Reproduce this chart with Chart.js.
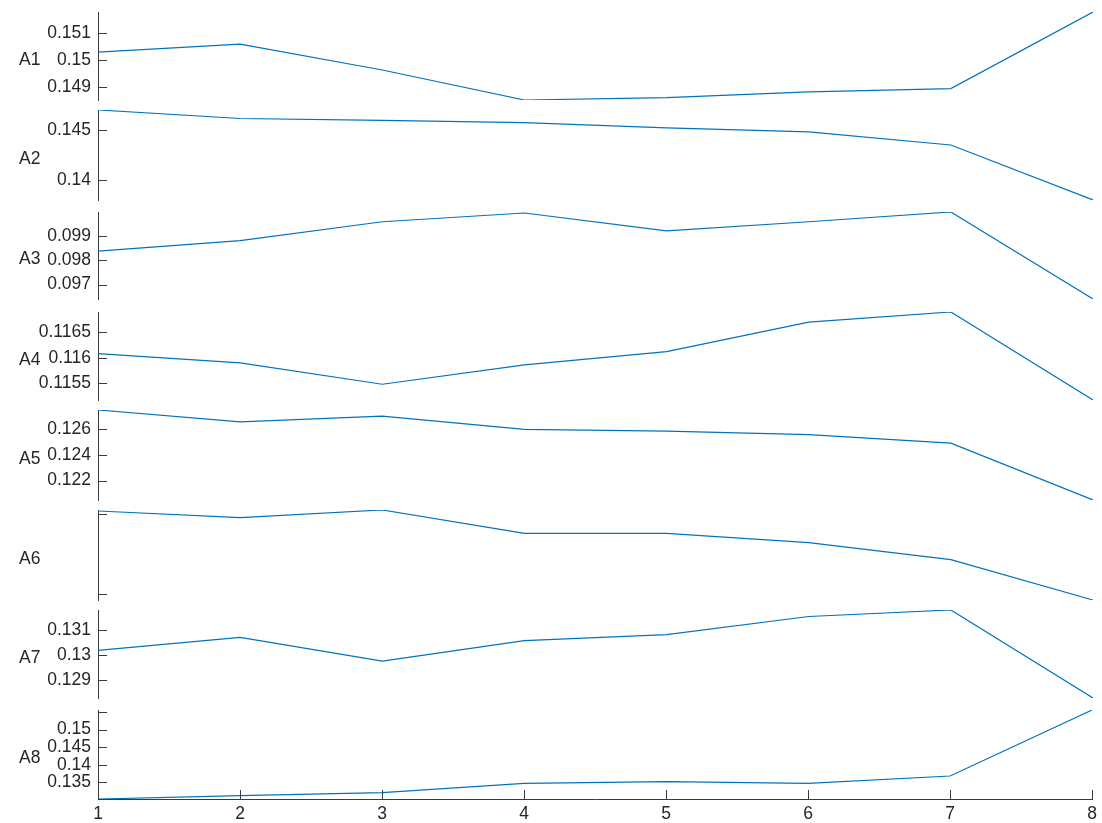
<!DOCTYPE html>
<html>
<head>
<meta charset="utf-8">
<script src="https://cdn.jsdelivr.net/npm/chart.js@4.4.1/dist/chart.umd.min.js"></script>
<style>
  html, body { margin: 0; padding: 0; background: #ffffff; }
  #wrap { position: relative; width: 1102px; height: 823px; overflow: hidden; background: #ffffff; }
  #wrap canvas { position: absolute; left: 0; }
</style>
</head>
<body>
<div id="wrap"></div>
<script>
// ---------------- data ----------------
const xValues = [1, 2, 3, 4, 5, 6, 7, 8];
const xTickLabels = ['1', '2', '3', '4', '5', '6', '7', '8'];

const seriesNames = ['A1', 'A2', 'A3', 'A4', 'A5', 'A6', 'A7', 'A8'];

const A1 = [0.15029, 0.15058, 0.14963, 0.14853, 0.14862, 0.14883, 0.14895, 0.15176];
const A2 = [0.14705, 0.14619, 0.14601, 0.14578, 0.14524, 0.14484, 0.14352, 0.13797];
const A3 = [0.09837, 0.09880, 0.09957, 0.09993, 0.09920, 0.09957, 0.09997, 0.09641];
const A4 = [0.11608, 0.11590, 0.11548, 0.11586, 0.11612, 0.11670, 0.11690, 0.11517];
const A5 = [0.12752, 0.12659, 0.12704, 0.12601, 0.12586, 0.12560, 0.12493, 0.12048];
const A6 = [0.12730, 0.12663, 0.12740, 0.12507, 0.12507, 0.12413, 0.12243, 0.11840];
const A7 = [0.13018, 0.13070, 0.12975, 0.13057, 0.13081, 0.13153, 0.13179, 0.12828];
const A8 = [0.13025, 0.13119, 0.13204, 0.13472, 0.13517, 0.13472, 0.13679, 0.15557];

const ticksA1 = [0.149, 0.150, 0.151];           const tickLabelsA1 = ['0.149', '0.15', '0.151'];
const ticksA2 = [0.140, 0.145];                  const tickLabelsA2 = ['0.14', '0.145'];
const ticksA3 = [0.097, 0.098, 0.099];           const tickLabelsA3 = ['0.097', '0.098', '0.099'];
const ticksA4 = [0.1155, 0.116, 0.1165];         const tickLabelsA4 = ['0.1155', '0.116', '0.1165'];
const ticksA5 = [0.122, 0.124, 0.126];           const tickLabelsA5 = ['0.122', '0.124', '0.126'];
const ticksA6 = [0.119, 0.127];                  const tickLabelsA6 = ['', ''];
const ticksA7 = [0.129, 0.130, 0.131];           const tickLabelsA7 = ['0.129', '0.13', '0.131'];
const ticksA8 = [0.135, 0.140, 0.145, 0.150, 0.155]; const tickLabelsA8 = ['0.135', '0.14', '0.145', '0.15', ''];

// ---------------- layout / style ----------------
const allSeries = [A1, A2, A3, A4, A5, A6, A7, A8];
const allTicks = [ticksA1, ticksA2, ticksA3, ticksA4, ticksA5, ticksA6, ticksA7, ticksA8];
const allTickLabels = [tickLabelsA1, tickLabelsA2, tickLabelsA3, tickLabelsA4, tickLabelsA5, tickLabelsA6, tickLabelsA7, tickLabelsA8];

const panelTop    = [12, 110, 212, 312, 410, 510, 610, 710];
const panelBottom = [100, 200, 299, 400, 500, 600, 698, 799];
const PLOT_LEFT = 98, PLOT_RIGHT = 1093, W = 1102, H = 823, PAD = 20, TICK_LEN = 9;
const FONT = { family: "'Liberation Sans', Arial, Helvetica, sans-serif", size: 17.5 };
const TEXT_COLOR = '#262626';
const AXIS_COLOR = '#3a3a3a';
const LINE_COLOR = '#0072BD';

const innerTicks = {
  id: 'innerTicks',
  afterDraw(chart, args, opts) {
    const ctx = chart.ctx;
    const area = chart.chartArea;
    ctx.save();
    ctx.strokeStyle = AXIS_COLOR;
    ctx.lineWidth = 1;
    ctx.beginPath();
    const ys = chart.scales.y;
    ys.ticks.forEach(t => {
      const py = Math.round(ys.getPixelForValue(t.value)) + 0.5;
      ctx.moveTo(area.left, py);
      ctx.lineTo(area.left + TICK_LEN, py);
    });
    if (opts.showX) {
      const xs = chart.scales.x;
      xs.ticks.forEach(t => {
        const px = Math.round(xs.getPixelForValue(t.value)) + 0.5;
        ctx.moveTo(px, area.bottom);
        ctx.lineTo(px, area.bottom - TICK_LEN);
      });
    }
    ctx.stroke();
    // variable name label
    ctx.fillStyle = TEXT_COLOR;
    ctx.font = FONT.size + 'px ' + FONT.family;
    ctx.textAlign = 'left';
    ctx.textBaseline = 'middle';
    ctx.fillText(opts.name, 19, (area.top + area.bottom) / 2 + 4);
    ctx.restore();
  }
};

const wrap = document.getElementById('wrap');

allSeries.forEach((series, i) => {
  const isLast = i === allSeries.length - 1;
  const top = panelTop[i] - PAD;
  const height = isLast ? (H - top) : (panelBottom[i] - panelTop[i] + 2 * PAD);
  const canvas = document.createElement('canvas');
  canvas.width = W;
  canvas.height = height;
  canvas.style.top = top + 'px';
  canvas.style.width = W + 'px';
  canvas.style.height = height + 'px';
  wrap.appendChild(canvas);

  const tickVals = allTicks[i];
  const tickLbls = allTickLabels[i];

  new Chart(canvas, {
    type: 'line',
    data: {
      datasets: [{
        label: seriesNames[i],
        data: xValues.map((x, j) => ({ x: x, y: series[j] })),
        borderColor: LINE_COLOR,
        borderWidth: 1.2,
        pointRadius: 0,
        tension: 0,
        fill: false
      }]
    },
    options: {
      responsive: false,
      animation: false,
      devicePixelRatio: 1,
      layout: { padding: { left: 0, right: W - PLOT_RIGHT, top: PAD, bottom: isLast ? 0 : PAD } },
      plugins: {
        legend: { display: false },
        tooltip: { enabled: false },
        innerTicks: { name: seriesNames[i], showX: isLast }
      },
      scales: {
        x: {
          type: 'linear',
          min: xValues[0],
          max: xValues[xValues.length - 1],
          display: isLast,
          grid: { display: true, drawOnChartArea: false, drawTicks: false },
          border: { display: true, color: AXIS_COLOR, width: 1 },
          ticks: {
            padding: 5,
            color: TEXT_COLOR,
            font: FONT,
            maxRotation: 0,
            autoSkip: false,
            callback: (v) => { const k = xValues.indexOf(v); return k >= 0 ? xTickLabels[k] : ''; }
          },
          afterBuildTicks: (s) => { s.ticks = xValues.map(v => ({ value: v })); },
          afterFit: (s) => { if (isLast) s.height = H - panelBottom[i]; }
        },
        y: {
          type: 'linear',
          min: Math.min(...series),
          max: Math.max(...series),
          grid: { display: true, drawOnChartArea: false, drawTicks: false },
          border: { display: true, color: AXIS_COLOR, width: 1 },
          ticks: {
            padding: 7,
            color: TEXT_COLOR,
            font: FONT,
            autoSkip: false,
            callback: (v) => {
              const k = tickVals.findIndex(t => Math.abs(t - v) < 1e-9);
              return k >= 0 ? tickLbls[k] : '';
            }
          },
          afterBuildTicks: (s) => { s.ticks = tickVals.map(v => ({ value: v })); },
          afterFit: (s) => { s.width = PLOT_LEFT; s.paddingTop = 0; s.paddingBottom = 0; }
        }
      }
    },
    plugins: [innerTicks]
  });
});
</script>
</body>
</html>
